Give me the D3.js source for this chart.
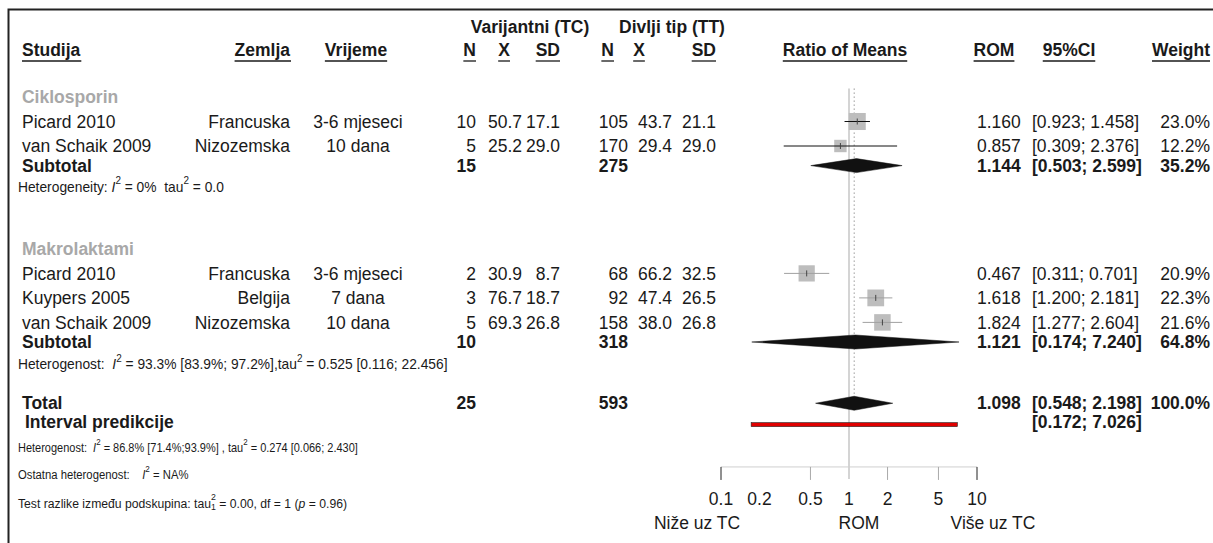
<!DOCTYPE html>
<html><head><meta charset="utf-8">
<script src="https://cdn.jsdelivr.net/npm/d3@7"></script>
<style>
body{margin:0;background:#fff}
svg{display:block}
text{font-family:"Liberation Sans",Arial,sans-serif;fill:#1a1a1a;white-space:pre}
</style>
</head><body><svg id="c" width="1213" height="543"></svg>
<script>
// ---------------- data ----------------
const groupNames = ["Ciklosporin", "Makrolaktami"];
const studyGroup = [0, 0, 1, 1, 1];
const studies = ["Picard 2010", "van Schaik 2009", "Picard 2010", "Kuypers 2005", "van Schaik 2009"];
const countries = ["Francuska", "Nizozemska", "Francuska", "Belgija", "Nizozemska"];
const times = ["3-6 mjeseci", "10 dana", "3-6 mjeseci", "7 dana", "10 dana"];
const nTC = [10, 5, 2, 3, 5];
const meanTC = [50.7, 25.2, 30.9, 76.7, 69.3];
const sdTC = [17.1, 29.0, 8.7, 18.7, 26.8];
const nTT = [105, 170, 68, 92, 158];
const meanTT = [43.7, 29.4, 66.2, 47.4, 38.0];
const sdTT = [21.1, 29.0, 32.5, 26.5, 26.8];
const rom = [1.160, 0.857, 0.467, 1.618, 1.824];
const romLo = [0.923, 0.309, 0.311, 1.200, 1.277];
const romHi = [1.458, 2.376, 0.701, 2.181, 2.604];
const weight = [23.0, 12.2, 20.9, 22.3, 21.6];

const subNTC = [15, 10];
const subNTT = [275, 318];
const subRom = [1.144, 1.121];
const subLo = [0.503, 0.174];
const subHi = [2.599, 7.240];
const subWeight = [35.2, 64.8];

const totalNTC = 25, totalNTT = 593;
const totalRom = 1.098, totalLo = 0.548, totalHi = 2.198, totalWeight = 100.0;
const predLo = 0.172, predHi = 7.026;

const axisTicks = [0.1, 0.2, 0.5, 1, 2, 5, 10];
const tickMarks = [0.1, 0.5, 2, 5, 10];

const hetTexts = [
  [["Heterogeneity: "], ["I", "i"], ["2", "sup"], [" = 0%  tau"], ["2", "sup"], [" = 0.0"]],
  [["Heterogenost:  "], ["I", "i"], ["2", "sup"], [" = 93.3% [83.9%; 97.2%],tau"], ["2", "sup"], [" = 0.525 [0.116; 22.456]"]]
];
const overallHet = [["Heterogenost:  "], ["I", "i"], ["2", "sup"], [" = 86.8% [71.4%;93.9%] , tau"], ["2", "sup"], [" = 0.274 [0.066; 2.430]"]];
const residHet = [["Ostatna heterogenost:    "], ["I", "i"], ["2", "sup"], [" = NA%"]];
const testSub = [["Test razlike između podskupina: tau"], ["2", "sup"], ["1", "sub"], [" = 0.00, df = 1 ("], ["p", "i"], [" = 0.96)"]];

// ---------------- layout ----------------
const svg = d3.select("#c");
svg.append("rect").attr("width", 1213).attr("height", 543).attr("fill", "#fff");
svg.append("path").attr("d", "M8.5,543 V9.5 H1213").attr("fill", "none").attr("stroke", "#222").attr("stroke-width", 2);

const FS = 17.5, VS = 1.05;
const f1 = d3.format(".1f"), f3 = d3.format(".3f");
const x = d3.scaleLog().domain([0.1, 10]).range([721, 977]);
const y = d3.scaleLinear().domain([0, 1]).range([97, 121.5]); // one slot = one text line

const col = {study: 22, country: 290, time: 358, nTC: 476, mTC: 522, sdTC: 560,
             nTT: 628, mTT: 672, sdTT: 716, rom: 977, ci: 1032, w: 1210};

function stretch(sel, yp, k) {
  return sel.attr("transform", `translate(0,${yp}) scale(1,${k}) translate(0,${-yp})`);
}
function txt(xp, yp, s, opt = {}) {
  const t = svg.append("text").attr("x", xp).attr("y", yp)
    .attr("dominant-baseline", "central")
    .attr("text-anchor", opt.anchor || "start")
    .attr("font-size", opt.size || FS)
    .attr("font-weight", opt.bold ? "bold" : null)
    .style("fill", opt.color || null)
    .text(s);
  return stretch(t, yp, VS);
}
function rich(xp, yp, segs, size, k) {
  const t = svg.append("text").attr("x", xp).attr("y", yp)
    .attr("dominant-baseline", "central").attr("font-size", size);
  let shift = 0;
  segs.forEach(([s, st]) => {
    const ts = t.append("tspan").text(s);
    const target = st === "sup" ? -size * 0.42 : st === "sub" ? size * 0.32 : 0;
    ts.attr("dy", target - shift); shift = target;
    if (st === "sup" || st === "sub") ts.attr("font-size", size * 0.72);
    if (st === "i") ts.attr("font-style", "italic");
    if (st === "sub") ts.attr("dx", -size * 0.4);
  });
  return stretch(t, yp, k);
}
function underlined(xp, yp, s, anchor) {
  const t = txt(xp, yp, s, {anchor, bold: true});
  const bb = t.node().getBBox();
  svg.append("line").attr("x1", bb.x).attr("x2", bb.x + bb.width)
    .attr("y1", yp + 11).attr("y2", yp + 11).attr("stroke", "#1a1a1a").attr("stroke-width", 1.3);
}

// headers
txt(530, 27, "Varijantni (TC)", {anchor: "middle", bold: true});
txt(672, 27, "Divlji tip (TT)", {anchor: "middle", bold: true});
const hy = 50;
underlined(col.study, hy, "Studija", "start");
underlined(col.country, hy, "Zemlja", "end");
underlined(356, hy, "Vrijeme", "middle");
underlined(col.nTC, hy, "N", "end");
underlined(504, hy, "X", "middle");
underlined(col.sdTC, hy, "SD", "end");
underlined(col.nTT - 14, hy, "N", "end");
underlined(639, hy, "X", "middle");
underlined(col.sdTT, hy, "SD", "end");
underlined(845, hy, "Ratio of Means", "middle");
underlined(994, hy, "ROM", "middle");
underlined(1069, hy, "95%CI", "middle");
underlined(col.w, hy, "Weight", "end");

// row slots
const groupSlots = [
  {label: 0, studies: [1, 2], sub: 2.8, het: 3.65},
  {label: 6.2, studies: [7.2, 8.2, 9.2], sub: 10.0, het: 10.9}
];
const slot = {total: 12.5, pred: 13.25, het: 14.3, resid: 15.4, test: 16.55, axis: 15.1, tickLab: 16.4, axLab: 17.4};

// reference lines
svg.append("line").attr("x1", x(1)).attr("x2", x(1)).attr("y1", y(-0.35)).attr("y2", y(slot.axis) + 12)
  .attr("stroke", "#d4d4d4").attr("stroke-width", 2);
svg.append("line").attr("x1", x(totalRom)).attr("x2", x(totalRom)).attr("y1", y(-0.35)).attr("y2", y(slot.total) + 8)
  .attr("stroke", "#9a9a9a").attr("stroke-width", 1).attr("stroke-dasharray", "1.5,2.5");

function diamond(est, lo, hi, yc, h) {
  svg.append("path").attr("d", `M${x(lo)},${yc} L${x(est)},${yc - h} L${x(hi)},${yc} L${x(est)},${yc + h} Z`)
    .attr("fill", "#111").attr("stroke", "#111").attr("stroke-width", 0.5);
}

groupSlots.forEach((gs, g) => {
  txt(col.study, y(gs.label), groupNames[g], {bold: true, color: "#a8a8a8"});
  const idx = d3.range(studies.length).filter(i => studyGroup[i] === g);
  idx.forEach((i, k) => {
    const yc = y(gs.studies[k]);
    txt(col.study, yc, studies[i]);
    txt(col.country, yc, countries[i], {anchor: "end"});
    txt(col.time, yc, times[i], {anchor: "middle"});
    txt(col.nTC, yc, nTC[i], {anchor: "end"});
    txt(col.mTC, yc, f1(meanTC[i]), {anchor: "end"});
    txt(col.sdTC, yc, f1(sdTC[i]), {anchor: "end"});
    txt(col.nTT, yc, nTT[i], {anchor: "end"});
    txt(col.mTT, yc, f1(meanTT[i]), {anchor: "end"});
    txt(col.sdTT, yc, f1(sdTT[i]), {anchor: "end"});
    txt(col.rom, yc, f3(rom[i]));
    txt(col.ci, yc, `[${f3(romLo[i])}; ${f3(romHi[i])}]`);
    txt(col.w, yc, f1(weight[i]) + "%", {anchor: "end"});
    const s = 3.55 * Math.sqrt(weight[i]);
    const lc = g === 0 ? "#111" : "#a0a0a0";
    svg.append("rect").attr("x", x(rom[i]) - s / 2).attr("y", yc - s / 2).attr("width", s).attr("height", s)
      .attr("fill", "#bdbdbd");
    svg.append("line").attr("x1", x(romLo[i])).attr("x2", x(romHi[i])).attr("y1", yc).attr("y2", yc)
      .attr("stroke", lc).attr("stroke-width", 1);
    svg.append("line").attr("x1", x(rom[i])).attr("x2", x(rom[i])).attr("y1", yc - 3).attr("y2", yc + 3)
      .attr("stroke", "#444").attr("stroke-width", 1);
  });
  const ys = y(gs.sub);
  txt(col.study, ys, "Subtotal", {bold: true});
  txt(col.nTC, ys, subNTC[g], {anchor: "end", bold: true});
  txt(col.nTT, ys, subNTT[g], {anchor: "end", bold: true});
  txt(col.rom, ys, f3(subRom[g]), {bold: true});
  txt(col.ci, ys, `[${f3(subLo[g])}; ${f3(subHi[g])}]`, {bold: true});
  txt(col.w, ys, f1(subWeight[g]) + "%", {anchor: "end", bold: true});
  diamond(subRom[g], subLo[g], subHi[g], ys, 7);
  rich(18, y(gs.het), hetTexts[g], 13.8, 1.1);
});

// total
const yt = y(slot.total);
txt(col.study, yt, "Total", {bold: true});
txt(col.nTC, yt, totalNTC, {anchor: "end", bold: true});
txt(col.nTT, yt, totalNTT, {anchor: "end", bold: true});
txt(col.rom, yt, f3(totalRom), {bold: true});
txt(col.ci, yt, `[${f3(totalLo)}; ${f3(totalHi)}]`, {bold: true});
txt(col.w, yt, f1(totalWeight) + "%", {anchor: "end", bold: true});
diamond(totalRom, totalLo, totalHi, yt, 7);

const yp = y(slot.pred);
txt(25, yp, "Interval predikcije", {bold: true});
txt(col.ci, yp, `[${f3(predLo)}; ${f3(predHi)}]`, {bold: true});
svg.append("rect").attr("x", x(predLo)).attr("y", yp + 1).attr("width", x(predHi) - x(predLo)).attr("height", 4)
  .attr("fill", "#e00000").attr("stroke", "#222").attr("stroke-width", 0.6);

rich(18, y(slot.het), overallHet, 11, 1.18);
rich(18, y(slot.resid), residHet, 11.3, 1.18);
rich(18, y(slot.test), testSub, 12.2, 1.12);

// axis
const ya = y(slot.axis);
svg.append("line").attr("x1", x(0.1)).attr("x2", x(10)).attr("y1", ya).attr("y2", ya).attr("stroke", "#cfcfcf").attr("stroke-width", 1);
tickMarks.forEach(v => {
  const edge = v === 0.1 || v === 10;
  svg.append("line").attr("x1", x(v)).attr("x2", x(v)).attr("y1", ya).attr("y2", ya + 13)
    .attr("stroke", edge ? "#222" : "#aaa").attr("stroke-width", 1);
});
axisTicks.forEach(v => txt(x(v), y(slot.tickLab), String(v), {anchor: "middle"}));
txt(697, y(slot.axLab), "Niže uz TC", {anchor: "middle"});
txt(859, y(slot.axLab), "ROM", {anchor: "middle"});
txt(993, y(slot.axLab), "Više uz TC", {anchor: "middle"});
</script>
</body></html>
